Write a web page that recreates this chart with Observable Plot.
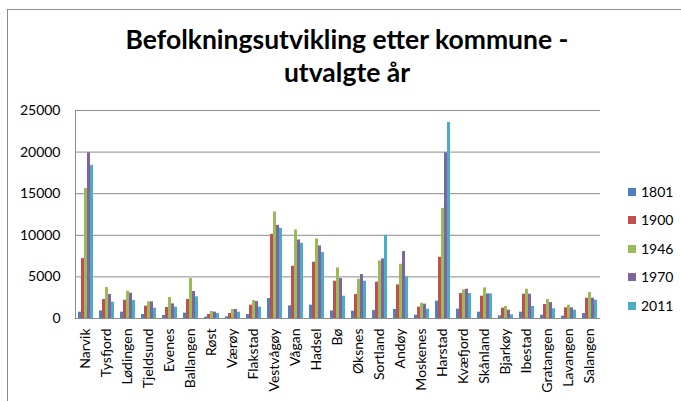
<!DOCTYPE html>
<html>
<head>
<meta charset="utf-8">
<script src="https://cdn.jsdelivr.net/npm/d3@7"></script>
<script src="https://cdn.jsdelivr.net/npm/@observablehq/plot@0.6"></script>
<style>
  html, body { margin: 0; padding: 0; background: #fff; }
  #wrap { position: relative; width: 681px; height: 401px; overflow: hidden; background: #fff; font-family: Lato, "Liberation Sans", sans-serif; }
  #border { position: absolute; left: 7px; top: 9px; width: 700px; height: 420px; border-left: 1px solid #8c8c8c; border-top: 1px solid #8c8c8c; }
  #title { position: absolute; left: 0; top: 23px; width: 694px; text-align: center; font-weight: bold; font-size: 26.5px; line-height: 33px; color: #000; }
  #chart { position: absolute; left: 0; top: 0; }
  #legend { position: absolute; left: 628px; top: 183px; font-size: 14px; color: #000; }
  .item { position: relative; height: 28.4px; line-height: 18px; }
  .sw { position: absolute; left: 0; top: 5px; width: 8px; height: 8px; }
  .lb { position: absolute; left: 13px; top: 0; }
</style>
</head>
<body>
<div id="wrap">
  <div id="border"></div>
  <div id="chart"></div>
  <div id="title">Befolkningsutvikling etter kommune -<br>utvalgte år</div>
  <div id="legend"></div>
</div>
<script>
const kommuner = ["Narvik","Tysfjord","Lødingen","Tjeldsund","Evenes","Ballangen","Røst","Værøy","Flakstad","Vestvågøy","Vågan","Hadsel","Bø","Øksnes","Sortland","Andøy","Moskenes","Harstad","Kvæfjord","Skånland","Bjarkøy","Ibestad","Gratangen","Lavangen","Salangen"];
const years = ["1801","1900","1946","1970","2011"];
const v1801 = [760, 910, 760, 480, 360, 640, 160, 200, 480, 2400, 1520, 1600, 910, 880, 950, 1080, 400, 2080, 1120, 760, 320, 760, 400, 280, 600];
const v1900 = [7200, 2280, 2200, 1480, 1320, 2280, 480, 600, 1600, 10120, 6280, 6760, 4480, 2880, 4360, 4040, 1360, 7360, 3000, 2680, 1240, 2920, 1680, 1280, 2440];
const v1946 = [15640, 3720, 3280, 2000, 2520, 4800, 840, 1080, 2160, 12800, 10640, 9560, 6080, 4720, 6920, 6520, 1840, 13240, 3440, 3680, 1440, 3520, 2280, 1600, 3120];
const v1970 = [19920, 2880, 3040, 2000, 1760, 3240, 760, 1080, 2040, 11200, 9440, 8720, 4800, 5280, 7160, 8040, 1720, 19920, 3520, 2960, 1000, 2920, 1920, 1280, 2440];
const v2011 = [18400, 1960, 2160, 1240, 1360, 2600, 600, 760, 1360, 10840, 9040, 7920, 2680, 4480, 10000, 5000, 1120, 23560, 3000, 2960, 440, 1440, 1160, 1000, 2200];
const yTicks = [0, 5000, 10000, 15000, 20000, 25000];
const colors = ["#4F81BD", "#C0504D", "#9BBB59", "#8064A2", "#4BACC6"];

const series = [v1801, v1900, v1946, v1970, v2011];
const data = kommuner.flatMap((k, i) => years.map((yr, j) => ({kommune: k, year: yr, value: series[j][i]})));

const chart = Plot.plot({
  width: 681,
  height: 401,
  marginTop: 110,
  marginBottom: 83,
  marginLeft: 72,
  marginRight: 78,
  style: {fontFamily: "Lato, 'Liberation Sans', sans-serif", fontSize: "14px", color: "#000", background: "transparent", overflow: "visible"},
  fx: {domain: kommuner, paddingInner: 0, paddingOuter: 0, label: null, tickRotate: -90, tickSize: 0, tickPadding: 10, axis: "bottom"},
  x: {domain: years, axis: null, paddingInner: 0, paddingOuter: 0.67},
  y: {domain: [0, 25000], ticks: yTicks, tickSize: 0, tickPadding: 15, label: null, tickFormat: d => String(d)},
  color: {domain: years, range: colors},
  marks: [
    Plot.ruleY(yTicks.slice(1), {stroke: "#8c8c8c", strokeWidth: 1}),
    Plot.barY(data, {fx: "kommune", x: "year", y: "value", fill: "year"}),
    Plot.ruleY([0], {stroke: "#8c8c8c", strokeWidth: 1}),
    Plot.frame({anchor: "left", facet: "super", stroke: "#8c8c8c"})
  ]
});
document.getElementById("chart").appendChild(chart);

const legend = document.getElementById("legend");
years.forEach((yr, j) => {
  const item = document.createElement("div");
  item.className = "item";
  item.innerHTML = `<span class="sw" style="background:${colors[j]}"></span><span class="lb">${yr}</span>`;
  legend.appendChild(item);
});
</script>
</body>
</html>
